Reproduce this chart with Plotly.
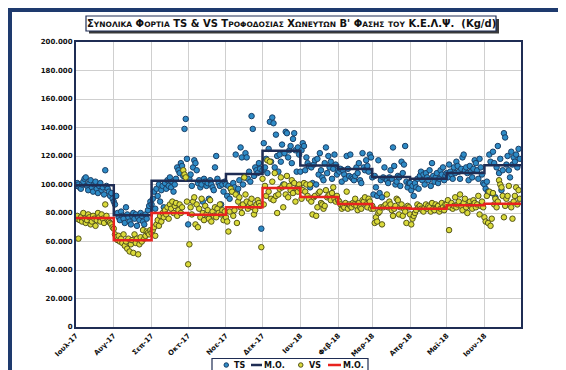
import pandas as pd
import plotly.graph_objects as go

# ---------------- data (thousand kg/d) ----------------
months = ["2017-07", "2017-08", "2017-09", "2017-10", "2017-11", "2017-12",
          "2018-01", "2018-02", "2018-03", "2018-04", "2018-05", "2018-06"]
month_labels = ["Ιουλ-17", "Αυγ-17", "Σεπ-17", "Οκτ-17", "Νοε-17", "Δεκ-17",
                "Ιαν-18", "Φεβ-18", "Μαρ-18", "Απρ-18", "Μαϊ-18", "Ιουν-18"]

ts_jul = [99, 101, 100, 98, 97, 100, 102, 104, 105, 99, 96, 101, 103, 98, 95, 100, 102, 97, 94, 99, 101, 96, 98, 93, 110, 99, 97, 95, 92, 94, 90]
ts_aug = [88, 86, 92, 80, 77, 75, 81, 78, 76, 73, 84, 79, 77, 74, 72, 78, 80, 76, 79, 71, 77, 75, 80, 78, 74, 72, 79, 76, 82, 85, 88]
ts_sep = [86, 90, 95, 83, 97, 92, 100, 88, 96, 99, 84, 101, 97, 103, 99, 105, 98, 102, 95, 100, 104, 112, 110, 108, 115, 113, 106, 139, 146, 118]
ts_oct = [72, 104, 107, 99, 112, 117, 115, 110, 101, 103, 98, 100, 88, 104, 102, 99, 101, 90, 103, 100, 98, 96, 112, 120, 104, 101, 99, 86, 100, 95, 102]
ts_nov = [100, 92, 99, 90, 97, 95, 101, 98, 121, 94, 97, 103, 126, 119, 100, 105, 122, 119, 104, 109, 102, 148, 139, 106, 112, 110, 108, 115, 111, 69]
ts_dec = [110, 129, 112, 118, 108, 125, 144, 116, 147, 143, 112, 135, 120, 109, 121, 116, 128, 100, 122, 137, 136, 119, 124, 127, 115, 132, 136, 124, 109, 126, 121]
ts_jan = [109, 124, 129, 127, 110, 119, 115, 113, 98, 112, 101, 114, 117, 100, 118, 107, 122, 110, 105, 103, 115, 126, 108, 120, 112, 116, 104, 111, 121, 114, 107]
ts_feb = [110, 109, 111, 102, 110, 107, 104, 120, 111, 106, 121, 105, 104, 103, 106, 112, 108, 115, 103, 101, 122, 112, 110, 117, 113, 109, 121, 119]
ts_mar = [105, 93, 106, 98, 92, 117, 94, 103, 91, 105, 112, 104, 103, 101, 105, 110, 104, 126, 113, 100, 102, 106, 105, 99, 116, 108, 114, 127, 102, 98, 101]
ts_apr = [101, 96, 99, 92, 101, 98, 104, 97, 106, 109, 103, 107, 100, 108, 105, 103, 110, 99, 115, 106, 102, 105, 108, 101, 104, 110, 107, 112, 103, 106]
ts_may = [108, 105, 114, 109, 107, 104, 112, 108, 116, 113, 109, 104, 111, 119, 121, 110, 112, 108, 103, 113, 109, 105, 111, 117, 115, 110, 104, 118, 112, 107, 101]
ts_jun = [100, 97, 102, 95, 121, 116, 94, 123, 115, 91, 112, 127, 108, 118, 96, 110, 136, 133, 114, 120, 110, 105, 123, 114, 119, 116, 121, 112, 125, 118]

vs_jul = [76, 78, 62, 75, 77, 74, 80, 76, 73, 75, 79, 77, 72, 74, 78, 76, 71, 75, 80, 77, 74, 79, 76, 73, 86, 78, 75, 74, 73, 72, 70]
vs_aug = [69, 65, 63, 61, 64, 60, 62, 59, 65, 57, 60, 55, 62, 53, 58, 61, 52, 65, 59, 62, 51, 58, 63, 60, 68, 62, 64, 67, 66, 65, 68]
vs_sep = [66, 68, 70, 64, 72, 75, 71, 78, 74, 80, 77, 82, 79, 84, 76, 86, 83, 88, 80, 85, 87, 78, 82, 86, 80, 84, 110, 107, 105, 88]
vs_oct = [44, 58, 84, 79, 88, 91, 72, 86, 70, 83, 77, 90, 80, 75, 85, 79, 82, 76, 89, 74, 81, 78, 84, 77, 83, 80, 86, 79, 82, 75, 81]
vs_nov = [77, 74, 67, 81, 97, 95, 78, 82, 93, 73, 88, 91, 84, 80, 86, 105, 93, 88, 83, 85, 87, 90, 84, 79, 82, 86, 89, 87, 85, 56]
vs_dec = [104, 86, 99, 92, 117, 95, 116, 90, 102, 89, 108, 92, 80, 93, 97, 105, 98, 84, 100, 93, 106, 91, 99, 96, 103, 94, 101, 88, 97, 95, 100]
vs_jan = [97, 90, 96, 101, 95, 100, 92, 90, 100, 88, 79, 91, 92, 78, 84, 94, 95, 87, 86, 83, 85, 96, 91, 92, 93, 89, 94, 98, 90, 88, 92]
vs_feb = [89, 88, 86, 83, 85, 84, 87, 95, 83, 86, 85, 84, 87, 86, 90, 85, 82, 87, 84, 83, 89, 88, 91, 86, 84, 90, 88, 83]
vs_mar = [85, 83, 73, 77, 74, 80, 81, 84, 72, 84, 85, 86, 93, 84, 88, 86, 82, 78, 83, 85, 90, 89, 79, 84, 86, 78, 83, 81, 73, 85, 84]
vs_apr = [79, 72, 76, 78, 80, 82, 86, 84, 85, 83, 82, 81, 84, 86, 83, 85, 84, 81, 87, 83, 82, 86, 84, 85, 81, 83, 87, 84, 82, 86]
vs_may = [86, 89, 68, 84, 87, 83, 85, 91, 84, 86, 88, 93, 85, 82, 87, 90, 84, 80, 86, 88, 85, 83, 89, 87, 84, 86, 92, 79, 85, 88, 84]
vs_jun = [77, 74, 92, 73, 95, 71, 76, 94, 86, 90, 84, 88, 103, 100, 98, 92, 77, 85, 90, 92, 99, 86, 84, 76, 88, 92, 98, 86, 96, 90]

ts_mean = [99.4, 78.4, 102.7, 102.7, 107.4, 123.7, 113.3, 110.8, 105.3, 104.0, 108.0, 113.5]
vs_mean = [76.5, 60.8, 80.0, 78.8, 84.0, 97.5, 91.2, 86.3, 83.5, 83.0, 85.4, 86.5]

y_ticks = [0, 20, 40, 60, 80, 100, 120, 140, 160, 180, 200]
y_tick_labels = ["0", "20.000", "40.000", "60.000", "80.000", "100.000",
                 "120.000", "140.000", "160.000", "180.000", "200.000"]

ts_by_month = [ts_jul, ts_aug, ts_sep, ts_oct, ts_nov, ts_dec, ts_jan, ts_feb, ts_mar, ts_apr, ts_may, ts_jun]
vs_by_month = [vs_jul, vs_aug, vs_sep, vs_oct, vs_nov, vs_dec, vs_jan, vs_feb, vs_mar, vs_apr, vs_may, vs_jun]

# ---------------- build series ----------------
month_starts = [pd.Timestamp(m + "-01") for m in months]
end_date = pd.Timestamp("2018-07-01")


def daily(series_by_month):
    xs, ys = [], []
    for start, vals in zip(month_starts, series_by_month):
        xs += list(pd.date_range(start, periods=len(vals), freq="D"))
        ys += vals
    return xs, ys


ts_x, ts_y = daily(ts_by_month)
vs_x, vs_y = daily(vs_by_month)
step_x = month_starts + [end_date]
ts_step = ts_mean + [ts_mean[-1]]
vs_step = vs_mean + [vs_mean[-1]]

NAVY = "#1F2D54"
BLUE_FILL = "#2E8BC6"
BLUE_EDGE = "#1B3F66"
YEL_FILL = "#DADA3A"
YEL_EDGE = "#55551A"
RED = "#E8231F"
FONT = "DejaVu Sans"

fig = go.Figure()
fig.add_trace(go.Scatter(x=ts_x, y=ts_y, mode="markers", name="TS",
                         marker=dict(size=5.5, color=BLUE_FILL, line=dict(color=BLUE_EDGE, width=1))))
fig.add_trace(go.Scatter(x=step_x, y=ts_step, mode="lines", name="M.O.", line_shape="hv",
                         line=dict(color=NAVY, width=2.5)))
fig.add_trace(go.Scatter(x=vs_x, y=vs_y, mode="markers", name="VS",
                         marker=dict(size=5.5, color=YEL_FILL, line=dict(color=YEL_EDGE, width=1))))
fig.add_trace(go.Scatter(x=step_x, y=vs_step, mode="lines", name="M.O.", line_shape="hv",
                         line=dict(color=RED, width=2.5)))

W, H = 566, 370
L, R, T, B = 68, 513, 34, 319


def fx(px):
    return (px - L) / (R - L)


def fy(py):
    return (B - py) / (B - T)


shapes = []
annotations = []
# outer frame
shapes.append(dict(type="rect", xref="paper", yref="paper", x0=fx(2), x1=fx(W - 2), y0=fy(H - 3), y1=fy(2),
                   line=dict(color="#1E3A6E", width=4), layer="below"))
# title box with shadow
shapes.append(dict(type="rect", xref="paper", yref="paper", x0=fx(81), x1=fx(491), y0=fy(25.5), y1=fy(11),
                   line=dict(width=0), fillcolor="#3A3A3A", layer="below"))
shapes.append(dict(type="rect", xref="paper", yref="paper", x0=fx(78), x1=fx(488), y0=fy(23), y1=fy(8),
                   line=dict(color=NAVY, width=1.2), fillcolor="white", layer="below"))

big, small = 10, 7.5


def sc(word):
    return word[0] + "<span style='font-size:%spx'>%s</span>" % (small, word[1:])


title = (sc("ΣΥΝΟΛΙΚΑ") + " " + sc("ΦΟΡΤΙΑ") + " TS & VS " + sc("ΤΡΟΦΟΔΟΣΙΑΣ") + " " +
         sc("ΧΩΝΕΥΤΩΝ") + " Β' " + sc("ΦΑΣΗΣ") + " <span style='font-size:%spx'>ΤΟΥ</span>" % small +
         " Κ.Ε.Λ.Ψ.  (Kg/d)")
annotations.append(dict(text=title, xref="paper", yref="paper", x=fx(283), y=fy(15.5),
                        xanchor="center", yanchor="middle", showarrow=False,
                        font=dict(family=FONT, size=big, color="#111111", weight="bold")))

# legend box
ly = 357
shapes.append(dict(type="rect", xref="paper", yref="paper", x0=fx(204), x1=fx(360), y0=fy(363.5), y1=fy(350.5),
                   line=dict(color=NAVY, width=1.2), fillcolor="white"))
shapes.append(dict(type="circle", xref="paper", yref="paper", x0=fx(216), x1=fx(220.5), y0=fy(ly + 2.25), y1=fy(ly - 2.25),
                   line=dict(color=BLUE_EDGE, width=1), fillcolor=BLUE_FILL))
shapes.append(dict(type="line", xref="paper", yref="paper", x0=fx(243), x1=fx(254), y0=fy(ly), y1=fy(ly),
                   line=dict(color=NAVY, width=2.5)))
shapes.append(dict(type="circle", xref="paper", yref="paper", x0=fx(290.5), x1=fx(295), y0=fy(ly + 2.25), y1=fy(ly - 2.25),
                   line=dict(color=YEL_EDGE, width=1), fillcolor=YEL_FILL))
shapes.append(dict(type="line", xref="paper", yref="paper", x0=fx(320), x1=fx(333), y0=fy(ly), y1=fy(ly),
                   line=dict(color=RED, width=2.5)))
for txt, px in [("TS", 224), ("M.O.", 254), ("VS", 299), ("M.O.", 333)]:
    annotations.append(dict(text=txt, xref="paper", yref="paper", x=fx(px), y=fy(ly),
                            xanchor="left", yanchor="middle", showarrow=False,
                            font=dict(family=FONT, size=8, color="#111111", weight="bold")))

fig.update_layout(
    width=W, height=H,
    margin=dict(l=L, r=W - R, t=T, b=H - B, pad=0),
    paper_bgcolor="white", plot_bgcolor="white",
    showlegend=False,
    shapes=shapes, annotations=annotations,
    xaxis=dict(
        range=[month_starts[0], end_date],
        tickvals=month_starts, ticktext=month_labels, tickangle=-45,
        showgrid=True, gridcolor="#CFCFCF", gridwidth=1,
        showline=True, linecolor=NAVY, linewidth=2, mirror=True,
        ticks="", zeroline=False,
        tickfont=dict(family=FONT, size=7, color="#111111", weight="bold"),
    ),
    yaxis=dict(
        range=[0, 200],
        tickvals=y_ticks, ticktext=y_tick_labels,
        showgrid=True, gridcolor="#CFCFCF", gridwidth=1,
        showline=True, linecolor=NAVY, linewidth=2, mirror=True,
        ticks="", zeroline=False,
        tickfont=dict(family=FONT, size=7, color="#111111", weight="bold"),
    ),
)

fig.write_html("out.html")
